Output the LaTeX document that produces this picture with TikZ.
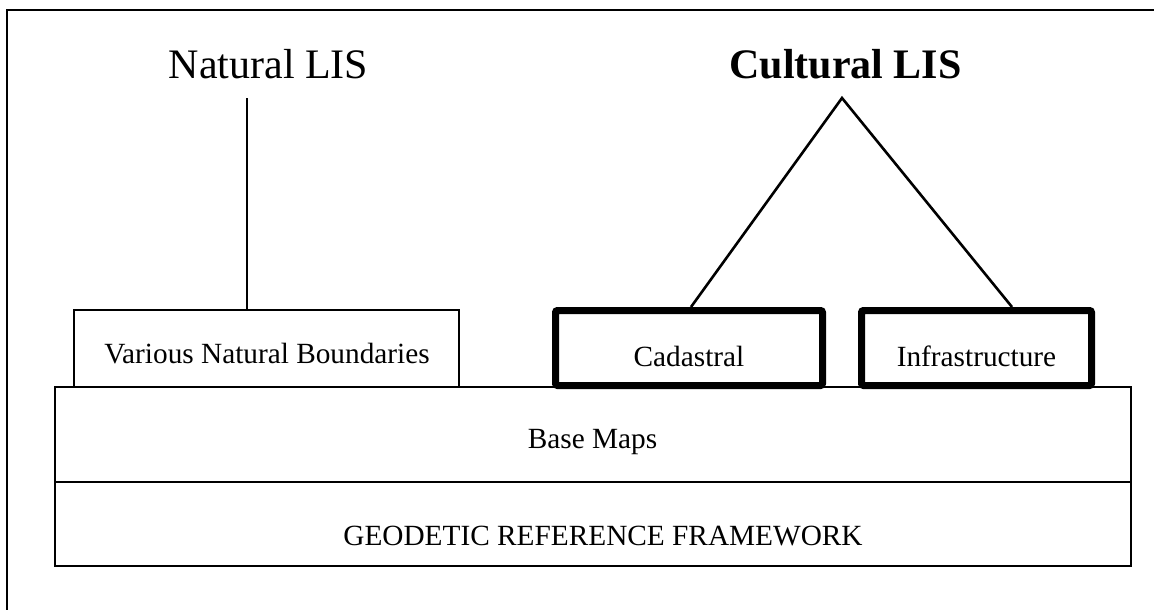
\documentclass[tikz,border=0pt]{standalone}
\usepackage{fontspec}
\setmainfont{Liberation Serif}
\begin{document}
\begin{tikzpicture}[x=1pt,y=-1pt,
  thinbox/.style={draw=black, line width=1.3pt, fill=none, inner sep=0pt},
  thickbox/.style={draw=black, line width=7pt, rounded corners=2pt, fill=none, inner sep=0pt},
  lbl/.style={font=\fontsize{29.3}{35}\selectfont, inner sep=0pt, anchor=base},
  ttl/.style={font=\fontsize{42}{50}\selectfont, inner sep=0pt, anchor=base},
  conn/.style={draw=black, line width=1.3pt},
  tconn/.style={draw=black, line width=2.6pt, line join=miter}]
\useasboundingbox (0,0) rectangle (1154,610);
\fill[white] (0,0) rectangle (1154,610);
% frame
\draw[line width=2pt] (7,612) -- (7,10) -- (1156,10);
% boxes
\node[thinbox, minimum width=385pt, minimum height=77pt] (vnb) at (266.5,348.5) {};
\node[thickbox, minimum width=267pt, minimum height=75pt] (cad) at (689,348) {};
\node[thickbox, minimum width=230pt, minimum height=75pt] (inf) at (976.5,348) {};
\node[thinbox, minimum width=1076pt, minimum height=95pt] (base) at (593,434.5) {};
\node[thinbox, minimum width=1076pt, minimum height=84pt] (geo) at (593,524) {};
% labels
\node[lbl] (tvnb) at (267,363) {Various Natural Boundaries};
\node[lbl] (tcad) at (689,366) {Cadastral};
\node[lbl] (tinf) at (976.5,366) {Infrastructure};
\node[lbl] (tbase) at (592.5,448) {Base Maps};
\node[lbl] (tgeo) at (603,545) {GEODETIC REFERENCE FRAMEWORK};
% titles
\node[ttl] (nat) at (268.5,78) {Natural LIS};
\node[ttl, font=\fontsize{42}{50}\selectfont\bfseries] (cul) at (845.5,78) {Cultural LIS};
% connectors
\coordinate (natend) at (247,98);
\draw[conn] (natend) -- (natend |- vnb.north);
\coordinate (apex) at (842,98);
\coordinate (infend) at ([xshift=35.5pt]inf.north);
\draw[tconn] ([xshift=2pt]cad.north) -- (apex) -- (infend);
\end{tikzpicture}
\end{document}
